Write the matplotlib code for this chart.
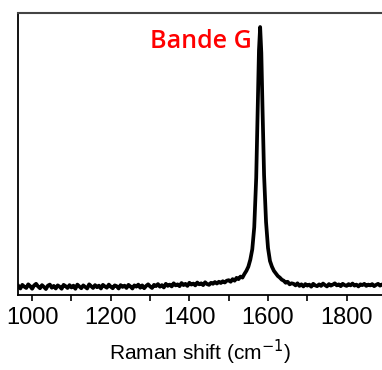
import numpy as np
import matplotlib.pyplot as plt
from matplotlib.ticker import MultipleLocator

# baseline before the G band, 965-1495 cm-1 every 5 cm-1
base_left = [
    0.004, -0.006, 0.008, 0.001, -0.004, 0.010, 0.003, -0.007, 0.006, 0.012,
    0.002, -0.005, 0.007, 0.000, -0.008, 0.005, 0.009, -0.003, 0.004, -0.006,
    0.006, 0.001, -0.007, 0.008, 0.003, -0.004, 0.007, -0.002, 0.005, -0.007,
    0.009, 0.002, -0.005, 0.006, 0.000, -0.006, 0.010, 0.003, -0.004, 0.007,
    -0.001, 0.005, -0.006, 0.008, 0.002, -0.003, 0.009, 0.001, -0.005, 0.006,
    0.003, -0.006, 0.007, 0.000, 0.005, -0.004, 0.008, 0.002, -0.006, 0.006,
    0.001, 0.009, -0.003, 0.006, -0.005, 0.004, 0.010, 0.002, -0.004, 0.008,
    0.003, 0.011, 0.001, 0.007, -0.002, 0.012, 0.004, 0.009, 0.002, 0.014,
    0.006, 0.010, 0.003, 0.015, 0.007, 0.012, 0.004, 0.016, 0.009, 0.013,
    0.006, 0.017, 0.010, 0.014, 0.007, 0.018, 0.011, 0.008, 0.016, 0.012,
    0.019, 0.013, 0.020, 0.015, 0.022, 0.017, 0.024,
]

# G band region
peak_shift = [1500, 1505, 1510, 1515, 1520, 1525, 1530, 1535, 1540, 1545,
              1550, 1555, 1560, 1565, 1570, 1574, 1577, 1580, 1583, 1586,
              1590, 1595, 1600, 1605, 1610, 1615, 1620, 1625, 1630, 1635,
              1640, 1645, 1650, 1655, 1660]
peak_int = [0.026, 0.020, 0.030, 0.024, 0.035, 0.030, 0.040, 0.036, 0.050, 0.062,
            0.078, 0.105, 0.145, 0.230, 0.420, 0.700, 0.910, 1.000, 0.900, 0.690,
            0.430, 0.250, 0.150, 0.100, 0.078, 0.062, 0.052, 0.042, 0.036, 0.028,
            0.024, 0.016, 0.020, 0.010, 0.014]

# baseline after the G band, 1665-1890 cm-1 every 5 cm-1
base_right = [
    0.012, 0.006, 0.014, 0.004, 0.010, 0.002, 0.011, 0.005, 0.009, 0.001,
    0.012, 0.006, 0.003, 0.010, 0.004, 0.013, 0.007, 0.002, 0.011, 0.005,
    0.009, 0.014, 0.006, 0.010, 0.003, 0.012, 0.007, 0.004, 0.011, 0.006,
    0.013, 0.005, 0.009, 0.002, 0.010, 0.007, 0.012, 0.004, 0.009, 0.006,
    0.011, 0.003, 0.008, 0.012, 0.005, 0.009,
]

shift = np.concatenate([np.arange(965, 1500, 5), peak_shift, np.arange(1665, 1895, 5)])
intensity = np.concatenate([base_left, peak_int, base_right])

fig = plt.figure(figsize=(3.82, 3.70), dpi=100)
ax = fig.add_axes([18 / 382, 1 - 295 / 370, 1 - 18 / 382, (295 - 13) / 370])

ax.plot(shift, intensity, color="black", linewidth=2.7, solid_joinstyle="round")

ax.set_xlim(964, 1890)
ax.set_ylim(-0.031, 1.054)
ax.set_yticks([])
ax.xaxis.set_major_locator(MultipleLocator(200))
ax.xaxis.set_minor_locator(MultipleLocator(100))
ax.tick_params(axis="x", which="both", direction="out", length=4, width=1.2,
               labelsize=17, pad=5)
for lab in ax.get_xticklabels():
    lab.set_family("Liberation Sans")

ax.spines["right"].set_visible(False)
for side in ["left", "bottom"]:
    ax.spines[side].set_linewidth(1.3)
    ax.spines[side].set_color("black")
ax.spines["top"].set_linewidth(1.5)
ax.spines["top"].set_color("#444444")

ax.set_xlabel("Raman shift (cm$^{-1}$)", fontsize=15, family="Liberation Sans",
              labelpad=6)
ax.text(0.363, 0.898, "Bande G", transform=ax.transAxes, color="red",
        fontsize=18, family="Open Sans", fontweight="semibold",
        ha="left", va="center")

fig.savefig("out.png", dpi=100)
